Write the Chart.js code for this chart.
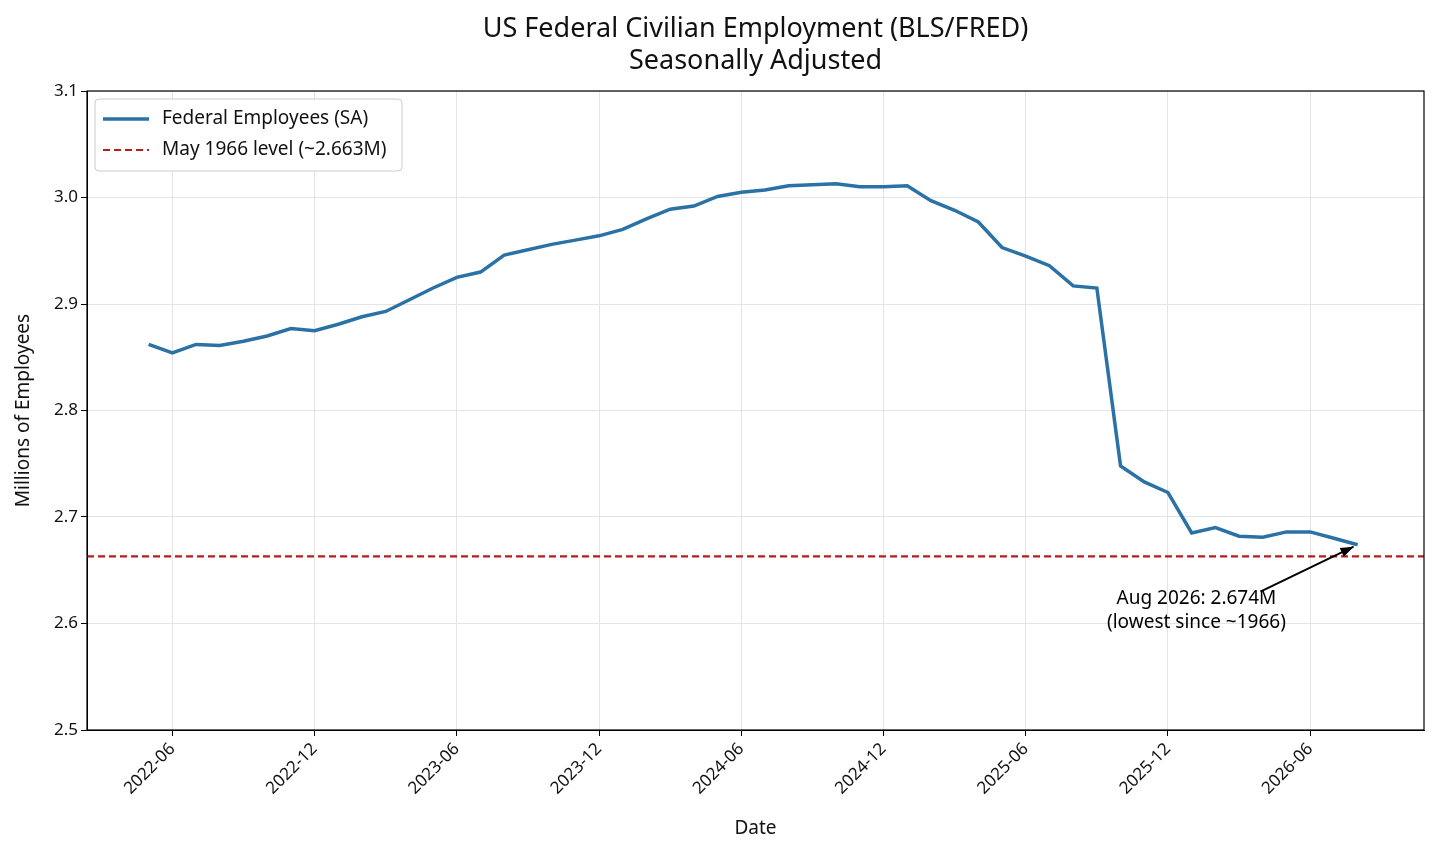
<!DOCTYPE html>
<html>
<head>
<meta charset="utf-8">
<script src="https://cdn.jsdelivr.net/npm/chart.js@4"></script>
<style>
  body { margin: 0; background: #fff; }
  #wrap { width: 1439px; height: 856px; }
</style>
</head>
<body>
<div id="wrap"><canvas id="myChart" width="1439" height="856"></canvas></div>
<script>
// monthly, 2022-05 .. 2026-08
const startYear = 2022, startMonth = 5
const employees = [
  2.862, 2.854, 2.862, 2.861, 2.865, 2.870, 2.877, 2.875,
  2.881, 2.888, 2.893, 2.904, 2.915, 2.925, 2.930, 2.946, 2.951, 2.956, 2.960, 2.964,
  2.970, 2.980, 2.989, 2.992, 3.001, 3.005, 3.007, 3.011, 3.012, 3.013, 3.010, 3.010,
  3.011, 2.997, 2.988, 2.977, 2.953, 2.945, 2.936, 2.917, 2.915, 2.748, 2.733, 2.723,
  2.685, 2.690, 2.682, 2.681, 2.686, 2.686, 2.680, 2.674
]
const level1966 = 2.663
const tickIdx = [1, 7, 13, 19, 25, 31, 37, 43, 49]
const yTicks = [2.5, 2.6, 2.7, 2.8, 2.9, 3.0, 3.1]
const titleLines = ['US Federal Civilian Employment (BLS/FRED)', 'Seasonally Adjusted']

const monthLabel = i => {
  const m = startMonth - 1 + i
  const y = startYear + Math.floor(m / 12)
  return y + '-' + String(m % 12 + 1).padStart(2, '0')
}

const xMin = -2.6, xMax = 53.8
const font = "'Noto Sans', sans-serif"

const extras = {
  id: 'extras',
  afterDraw(chart) {
    const c = chart.ctx, x = chart.scales.x, y = chart.scales.y, a = chart.chartArea
    c.save()
    // title centred over plot area
    c.fillStyle = '#111'
    c.font = '27px ' + font
    c.textAlign = 'center'
    c.textBaseline = 'middle'
    const cx = (a.left + a.right) / 2
    c.fillText(titleLines[0], cx, 29)
    c.fillText(titleLines[1], cx, 61)
    c.textAlign = 'left'
    // legend box
    c.fillStyle = 'rgba(255,255,255,0.9)'
    c.strokeStyle = '#ccc'
    c.lineWidth = 1
    c.beginPath(); c.roundRect(a.left + 8, a.top + 8, 307, 72, 4); c.fill(); c.stroke()
    c.font = '19px ' + font
    c.lineWidth = 3.5; c.strokeStyle = '#2a72a6'
    c.beginPath(); c.moveTo(a.left + 16, a.top + 28); c.lineTo(a.left + 62, a.top + 28); c.stroke()
    c.lineWidth = 2.2; c.strokeStyle = '#b81c1c'; c.setLineDash([7, 4])
    c.beginPath(); c.moveTo(a.left + 16, a.top + 59); c.lineTo(a.left + 62, a.top + 59); c.stroke()
    c.setLineDash([])
    c.fillStyle = '#111'
    c.fillText('Federal Employees (SA)', a.left + 75, a.top + 28)
    c.fillText('May 1966 level (~2.663M)', a.left + 75, a.top + 59)
    // annotation
    const last = employees.length - 1
    const px = x.getPixelForValue(last) - 4, py = y.getPixelForValue(employees[last]) + 2
    const sx = x.getPixelForValue(last - 4.1), sy = y.getPixelForValue(2.63)
    c.strokeStyle = '#000'; c.lineWidth = 2
    c.beginPath(); c.moveTo(sx, sy); c.lineTo(px, py); c.stroke()
    const ang = Math.atan2(py - sy, px - sx)
    c.fillStyle = '#000'
    c.beginPath(); c.moveTo(px, py)
    c.lineTo(px - 14 * Math.cos(ang - 0.35), py - 14 * Math.sin(ang - 0.35))
    c.lineTo(px - 14 * Math.cos(ang + 0.35), py - 14 * Math.sin(ang + 0.35))
    c.closePath(); c.fill()
    c.textAlign = 'center'
    const tx = x.getPixelForValue(last - 6.8)
    c.fillText('Aug 2026: 2.674M', tx, y.getPixelForValue(2.6) - 25)
    c.fillText('(lowest since ~1966)', tx, y.getPixelForValue(2.6) - 1)
    // frame
    c.strokeStyle = '#000'; c.lineWidth = 1.2
    c.strokeRect(a.left, a.top, a.right - a.left, a.bottom - a.top)
    c.restore()
  }
}

new Chart(document.getElementById('myChart').getContext('2d'), {
  type: 'line',
  data: {
    datasets: [{
      data: employees.map((v, i) => ({ x: i, y: v })),
      borderColor: '#2a72a6',
      borderWidth: 3.5,
      pointRadius: 0,
      tension: 0
    }, {
      data: [{ x: xMin, y: level1966 }, { x: xMax, y: level1966 }],
      borderColor: '#b81c1c',
      borderWidth: 2.2,
      borderDash: [7, 4],
      pointRadius: 0
    }]
  },
  options: {
    responsive: false,
    animation: false,
    layout: { padding: { left: 8, right: 15, top: 91, bottom: 12 } },
    plugins: {
      legend: { display: false },
      tooltip: { enabled: false },
      title: { display: false }
    },
    scales: {
      x: {
        type: 'linear', min: xMin, max: xMax,
        afterBuildTicks: s => { s.ticks = tickIdx.map(v => ({ value: v })) },
        afterFit: s => { s.height = 114 },
        ticks: {
          callback: v => monthLabel(v),
          maxRotation: 45, minRotation: 45,
          color: '#111', font: { family: font, size: 17 }
        },
        grid: { color: '#e4e4e4', tickColor: '#000', tickLength: 6 },
        border: { color: '#000' },
        title: { display: true, text: 'Date', color: '#111', font: { family: font, size: 19 } }
      },
      y: {
        min: 2.5, max: 3.1,
        afterBuildTicks: s => { s.ticks = yTicks.map(v => ({ value: v })) },
        afterFit: s => { s.width = 79 },
        ticks: { callback: v => v.toFixed(1), color: '#111', font: { family: font, size: 17 } },
        grid: { color: '#e4e4e4', tickColor: '#000', tickLength: 6 },
        border: { color: '#000' },
        title: { display: true, text: 'Millions of Employees', color: '#111', font: { family: font, size: 19 } }
      }
    }
  },
  plugins: [extras]
})
</script>
</body>
</html>
